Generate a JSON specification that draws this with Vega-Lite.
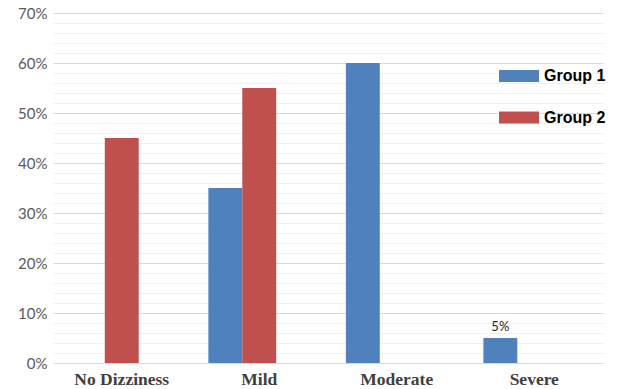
{
  "$schema": "https://vega.github.io/schema/vega-lite/v6.json",
  "width": 550,
  "height": 350,
  "autosize": "none",
  "padding": {"left": 53, "top": 13, "right": 17, "bottom": 26},
  "background": "white",
  "config": {"view": {"stroke": null}},
  "data": {"values": [
    {"category": "No Dizziness", "group": "Group 1", "value": 0},
    {"category": "No Dizziness", "group": "Group 2", "value": 0.45},
    {"category": "Mild", "group": "Group 1", "value": 0.35},
    {"category": "Mild", "group": "Group 2", "value": 0.55},
    {"category": "Moderate", "group": "Group 1", "value": 0.60},
    {"category": "Moderate", "group": "Group 2", "value": 0},
    {"category": "Severe", "group": "Group 1", "value": 0.05},
    {"category": "Severe", "group": "Group 2", "value": 0}
  ]},
  "encoding": {
    "x": {
      "field": "category",
      "type": "nominal",
      "sort": ["No Dizziness", "Mild", "Moderate", "Severe"],
      "scale": {"paddingInner": 0.26, "paddingOuter": 0.13},
      "axis": {
        "title": null,
        "labelAngle": 0,
        "labelFont": "Liberation Serif",
        "labelFontWeight": "bold",
        "labelFontSize": 17.5,
        "labelColor": "#404040",
        "ticks": false,
        "domain": false,
        "labelPadding": 7
      }
    },
    "xOffset": {"field": "group", "scale": {"domain": ["Group 1", "Group 2", "Group 3"]}},
    "y": {
      "field": "value",
      "type": "quantitative",
      "scale": {"domain": [0, 0.7], "nice": false},
      "axis": {
        "title": null,
        "values": [0, 0.02, 0.04, 0.06, 0.08, 0.1, 0.12, 0.14, 0.16, 0.18, 0.2, 0.22, 0.24, 0.26, 0.28, 0.3, 0.32, 0.34, 0.36, 0.38, 0.4, 0.42, 0.44, 0.46, 0.48, 0.5, 0.52, 0.54, 0.56, 0.58, 0.6, 0.62, 0.64, 0.66, 0.68, 0.7],
        "format": ".0%",
        "labelExpr": "round(datum.value*100) % 10 === 0 ? datum.label : ''",
        "labelFont": "Lato",
        "labelFontSize": 15,
        "labelColor": "#595959",
        "labelPadding": 6,
        "ticks": false,
        "domain": false,
        "grid": true,
        "gridColor": {"condition": {"test": "round(datum.value*100) % 10 === 0", "value": "#d9d9d9"}, "value": "#f0f0f0"},
        "gridWidth": 1
      }
    }
  },
  "layer": [
    {
      "mark": {"type": "bar"},
      "encoding": {
        "color": {
          "field": "group",
          "type": "nominal",
          "scale": {"domain": ["Group 1", "Group 2"], "range": ["#4F81BD", "#C0504D"]},
          "legend": {
            "title": null,
            "orient": "none",
            "legendX": 446,
            "legendY": 43,
            "symbolType": "M-1,-0.3L1,-0.3L1,0.3L-1,0.3Z",
            "symbolSize": 1600,
            "symbolStrokeWidth": 0,
            "symbolOpacity": 1,
            "labelFont": "Liberation Sans",
            "labelFontWeight": "bold",
            "labelFontSize": 16,
            "labelColor": "#000000",
            "labelOffset": 5,
            "rowPadding": 13.5
          }
        }
      }
    },
    {
      "transform": [{"filter": "datum.category === 'Severe' && datum.group === 'Group 1'"}],
      "mark": {"type": "text", "baseline": "bottom", "dy": -4, "font": "Lato", "fontSize": 13, "color": "#262626"},
      "encoding": {
        "text": {"field": "value", "type": "quantitative", "format": ".0%"}
      }
    }
  ]
}
